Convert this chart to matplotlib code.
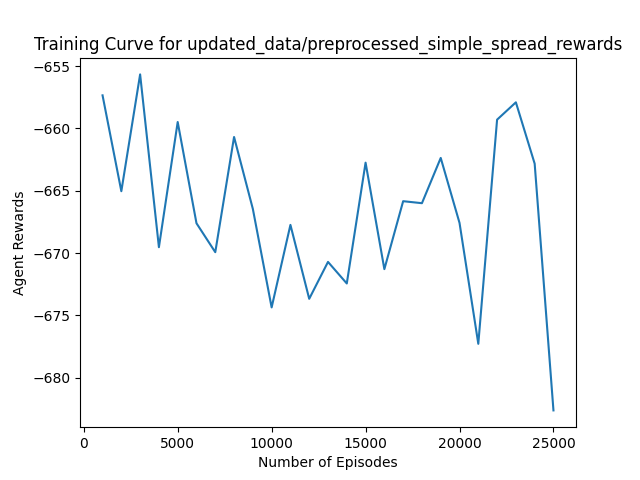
import matplotlib
matplotlib.use("Agg")
import matplotlib.pyplot as plt

episodes = list(range(1000, 26000, 1000))
rewards = [-657.35, -665.04, -655.67, -669.53, -659.49, -667.61, -669.93, -660.69,
           -666.46, -674.36, -667.74, -673.67, -670.71, -672.44, -662.75, -671.29,
           -665.84, -666.0, -662.37, -667.58, -677.28, -659.30, -657.91, -662.83,
           -682.62]

fig, ax = plt.subplots(figsize=(6.4, 4.8), dpi=100)
ax.plot(episodes, rewards)
ax.set_title("Training Curve for updated_data/preprocessed_simple_spread_rewards")
ax.set_xlabel("Number of Episodes")
ax.set_ylabel("Agent Rewards")
fig.savefig("out.png")
